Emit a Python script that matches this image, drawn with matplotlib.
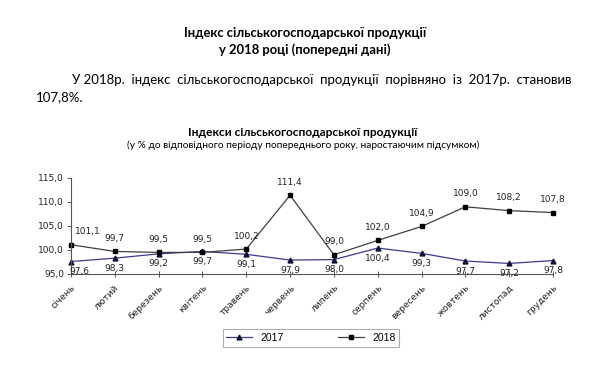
import matplotlib
matplotlib.use("Agg")
import matplotlib.pyplot as plt

months = ["січень", "лютий", "березень", "квітень", "травень", "червень",
          "липень", "серпень", "вересень", "жовтень", "листопад", "грудень"]
idx_2017 = [97.6, 98.3, 99.2, 99.7, 99.1, 97.9, 98.0, 100.4, 99.3, 97.7, 97.2, 97.8]
idx_2018 = [101.1, 99.7, 99.5, 99.5, 100.2, 111.4, 99.0, 102.0, 104.9, 109.0, 108.2, 107.8]
yticks = [95.0, 100.0, 105.0, 110.0, 115.0]

def fmt(v):
    return f"{v:.1f}".replace(".", ",")

fig = plt.figure(figsize=(6.10, 3.71), dpi=100)
fig.patch.set_facecolor("white")

# Header texts
fig.text(305 / 610, 1 - 33 / 371, "Індекс сільськогосподарської продукції", ha="center", va="center",
         fontsize=9.4, fontweight="bold", family="Lato")
fig.text(305 / 610, 1 - 50 / 371, "у 2018 році (попередні дані)", ha="center", va="center",
         fontsize=9.4, fontweight="bold", family="Lato")
fig.text(72 / 610, 1 - 80 / 371,
         "У 2018р.  індекс  сільськогосподарської  продукції  порівняно  із  2017р.  становив",
         ha="left", va="center", fontsize=9.5, family="Lato")
fig.text(36 / 610, 1 - 97 / 371, "107,8%.", ha="left", va="center", fontsize=9.5, family="Lato")

fig.text(303 / 610, 1 - 132 / 371, "Індекси сільськогосподарської продукції", ha="center", va="center",
         fontsize=8.6, fontweight="bold", family="Lato")
fig.text(303 / 610, 1 - 145 / 371, "(у % до відповідного періоду попереднього року, наростаючим підсумком)",
         ha="center", va="center", fontsize=7.3, family="Lato")

ax = fig.add_axes([71 / 610, 1 - 274 / 371, (553 - 71) / 610, (274 - 178) / 371])
x = list(range(len(months)))
l1, = ax.plot(x, idx_2017, color="#3b3b8f", lw=0.9, marker="^", ms=3.5,
              markerfacecolor="#111133", markeredgecolor="#111133", label="2017", clip_on=False)
l2, = ax.plot(x, idx_2018, color="#404040", lw=0.9, marker="s", ms=3.2,
              markerfacecolor="black", markeredgecolor="black", label="2018", clip_on=False)

for i, v in enumerate(idx_2018):
    dx = 12 if i == 0 else 0
    ax.annotate(fmt(v), (i, v), xytext=(dx, 6), textcoords="offset points",
                ha="center", va="bottom", fontsize=6.5, color="#222222")
for i, v in enumerate(idx_2017):
    dx = 6 if i == 0 else 0
    ax.annotate(fmt(v), (i, v), xytext=(dx, -4), textcoords="offset points",
                ha="center", va="top", fontsize=6.5, color="#222222")

ax.set_xlim(0, 11)
ax.set_ylim(95, 115)
ax.set_yticks(yticks)
ax.set_yticklabels([fmt(v) for v in yticks], fontsize=6.5, color="#222222")
ax.set_xticks(x)
ax.set_xticklabels(months, rotation=45, ha="right", rotation_mode="anchor", fontsize=6.5, color="#222222")
ax.tick_params(axis="x", direction="inout", length=5, width=0.7, color="#555555", pad=4)
ax.tick_params(axis="y", direction="out", length=3, width=0.7, color="#555555", pad=2)
for s in ["top", "right"]:
    ax.spines[s].set_visible(False)
for s in ["left", "bottom"]:
    ax.spines[s].set_color("#555555")
    ax.spines[s].set_linewidth(0.8)

leg = fig.legend(handles=[l1, l2], loc="center", bbox_to_anchor=(311 / 610, 1 - 338 / 371),
                 ncol=2, frameon=True, fancybox=False, edgecolor="#999999",
                 handlelength=2.5, columnspacing=5.2, borderpad=0.35, borderaxespad=0,
                 prop={"family": "Liberation Sans", "size": 7.5})
leg.get_frame().set_linewidth(0.8)

fig.savefig("out.png", dpi=100, facecolor="white")
